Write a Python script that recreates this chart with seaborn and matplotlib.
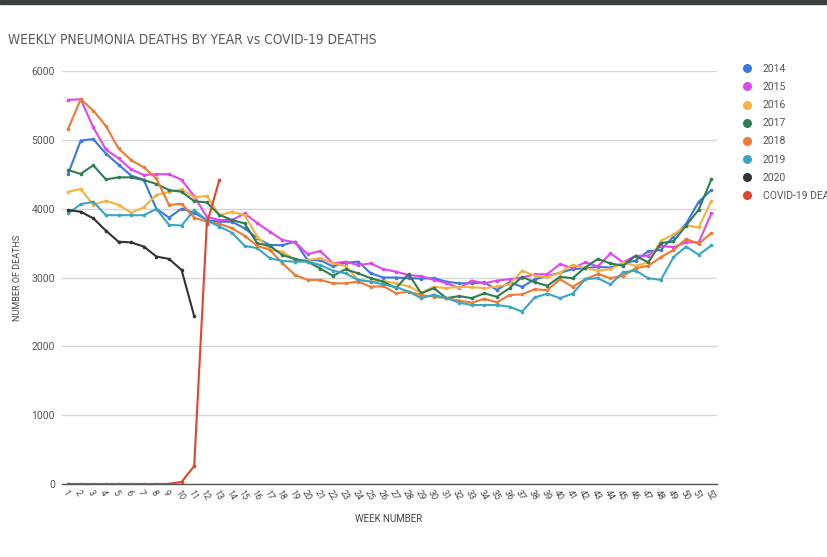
import matplotlib
matplotlib.use("Agg")
import matplotlib.pyplot as plt
from matplotlib import font_manager
from matplotlib.lines import Line2D
from matplotlib.patches import Rectangle
import seaborn as sns
import pandas as pd

weeks = list(range(1, 53))

y2014 = [4500, 4990, 5010, 4800, 4640, 4480, 4420, 4000, 3870, 4000, 3940, 3835, 3810, 3810, 3715, 3570,
         3470, 3470, 3520, 3250, 3250, 3160, 3215, 3230, 3060, 3000, 3000, 2990, 2985, 2990, 2940, 2915,
         2915, 2930, 2820, 2930, 2865, 2975, 3020, 3070, 3120, 3135, 3155, 3145, 3205, 3245, 3380, 3400,
         3595, 3780, 4100, 4270]
y2015 = [5580, 5590, 5180, 4860, 4730, 4570, 4490, 4500, 4500, 4420, 4180, 3880, 3835, 3835, 3930, 3790,
         3665, 3545, 3510, 3340, 3385, 3205, 3230, 3180, 3205, 3120, 3085, 3035, 3020, 2965, 2920, 2845,
         2955, 2915, 2955, 2975, 3000, 3045, 3050, 3195, 3135, 3220, 3160, 3350, 3220, 3315, 3315, 3460,
         3440, 3510, 3510, 3930]
y2016 = [4245, 4285, 4055, 4115, 4055, 3940, 4020, 4200, 4245, 4280, 4165, 4185, 3905, 3955, 3905, 3595,
         3400, 3375, 3255, 3255, 3280, 3205, 3165, 2965, 2940, 2950, 2915, 2870, 2780, 2865, 2845, 2865,
         2860, 2845, 2870, 2900, 3100, 3025, 3005, 3070, 3185, 3135, 3100, 3120, 3220, 3170, 3220, 3535,
         3625, 3755, 3730, 4110]
y2017 = [4560, 4505, 4630, 4425, 4455, 4455, 4415, 4360, 4270, 4245, 4110, 4090, 3910, 3835, 3785, 3495,
         3460, 3325, 3270, 3230, 3130, 3025, 3120, 3060, 2990, 2940, 2845, 3050, 2770, 2845, 2700, 2730,
         2700, 2770, 2720, 2845, 3010, 2930, 2880, 3010, 2990, 3145, 3270, 3205, 3170, 3315, 3220, 3500,
         3525, 3755, 3985, 4425]
y2018 = [5155, 5590, 5425, 5200, 4875, 4705, 4600, 4440, 4055, 4070, 3870, 3810, 3780, 3715, 3605, 3460,
         3400, 3205, 3035, 2965, 2965, 2915, 2915, 2940, 2865, 2875, 2770, 2795, 2745, 2720, 2700, 2665,
         2635, 2690, 2640, 2745, 2755, 2830, 2815, 2975, 2865, 2975, 3050, 2990, 3025, 3135, 3170, 3295,
         3400, 3560, 3490, 3645]
y2019 = [3930, 4065, 4100, 3905, 3905, 3905, 3905, 3995, 3765, 3755, 3980, 3830, 3740, 3650, 3460, 3425,
         3280, 3240, 3230, 3230, 3180, 3100, 3060, 2965, 2940, 2900, 2860, 2795, 2700, 2750, 2700, 2635,
         2600, 2600, 2600, 2575, 2505, 2710, 2765, 2700, 2765, 2975, 2990, 2900, 3075, 3100, 2990, 2965,
         3295, 3450, 3330, 3465]
y2020 = [3980, 3955, 3860, 3680, 3520, 3510, 3450, 3305, 3270, 3110, 2440]
covid = [0, 0, 0, 0, 0, 0, 0, 0, 2, 30, 260, 3780, 4420]

series_names = ["2014", "2015", "2016", "2017", "2018", "2019", "2020", "COVID-19 DEATHS"]
series_values = [y2014, y2015, y2016, y2017, y2018, y2019, y2020, covid]
colors = ["#3b78e0", "#e046f0", "#f5b23e", "#2f7d50", "#ee7a32", "#3aa6c2", "#333333", "#e0452d"]

rows = []
for name, vals in zip(series_names, series_values):
    for w, v in zip(weeks, vals):
        rows.append({"week": w, "deaths": v, "series": name})
df = pd.DataFrame(rows)

sns.set_style("white")
plt.rcParams["font.family"] = ["Roboto", "DejaVu Sans"]

# look for an installed condensed / narrow sans face for the title
title_font = None
for fe in font_manager.fontManager.ttflist:
    nm = (fe.fname or "").lower()
    if fe.style == "normal" and fe.weight in (400, "normal", "regular") and \
            ("condensed" in nm or "narrow" in nm) and "bold" not in nm and "light" not in nm \
            and "mono" not in nm and "serif" not in nm.replace("sans", ""):
        title_font = fe.fname
        break

fig = plt.figure(figsize=(8.28, 5.57), dpi=100)
ax = fig.add_axes([62 / 828, (557 - 484) / 557, 655 / 828, (484 - 71) / 557])

palette = dict(zip(series_names, colors))
sns.lineplot(data=df, x="week", y="deaths", hue="series", hue_order=series_names,
             palette=palette, marker="o", markersize=2.6, markeredgewidth=0,
             linewidth=1.5, ax=ax, legend=False, sort=False)

ax.set_xlim(0.52, 52.45)
ax.set_ylim(0, 6000)
ax.set_yticks(range(0, 6001, 1000))
ax.set_xticks(weeks)
ax.set_xticklabels([str(w) for w in weeks], rotation=-60, ha="left", va="top",
                   rotation_mode="anchor", fontsize=6.5, color="#444444")
ax.tick_params(axis="y", labelsize=7.5, colors="#555555", length=0, pad=5)
ax.tick_params(axis="x", length=0, pad=3)
ax.grid(axis="y", color="#d6d6d6", linewidth=1)
ax.set_axisbelow(True)
for s in ["top", "right", "left"]:
    ax.spines[s].set_visible(False)
ax.spines["bottom"].set_color("#555555")
ax.spines["bottom"].set_linewidth(1)
ax.set_xlabel("")
ax.set_ylabel("")

fig.text(389 / 828, 1 - 519 / 557, "WEEK NUMBER", ha="center", va="center",
         fontsize=7, color="#444444")
fig.text(18 / 828, 1 - 278 / 557, "NUMBER OF DEATHS", ha="center", va="center",
         rotation=90, fontsize=6.5, color="#444444")

title = "WEEKLY PNEUMONIA DEATHS BY YEAR vs COVID-19 DEATHS"
if title_font is not None:
    fig.text(8 / 828, 1 - 40 / 557, title, ha="left", va="center", color="#5a5a5a",
             fontproperties=font_manager.FontProperties(fname=title_font, size=9.8))
else:
    fig.text(8 / 828, 1 - 40 / 557, title, ha="left", va="center", fontsize=9.5,
             color="#5a5a5a")

handles = [Line2D([], [], linestyle="none", marker="o", markersize=6.5,
                  markerfacecolor=c, markeredgewidth=0) for c in colors]
fig.legend(handles, series_names, loc="upper left",
           bbox_to_anchor=(741 / 828, 1 - 64 / 557), bbox_transform=fig.transFigure,
           frameon=False, fontsize=7.5, labelcolor="#555555", handlelength=1.2,
           handletextpad=0.9, labelspacing=0.78, borderpad=0, borderaxespad=0)

fig.patches.append(Rectangle((0, 1 - 4 / 557), 1, 4 / 557, transform=fig.transFigure,
                             color="#37423e", zorder=10))

fig.savefig("out.png", dpi=100)
